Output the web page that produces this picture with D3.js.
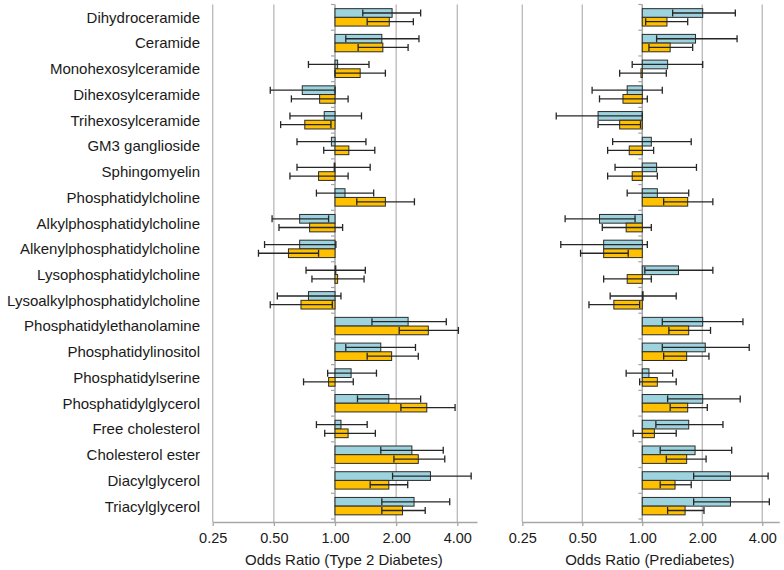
<!DOCTYPE html>
<html>
<head>
<meta charset="utf-8">
<script src="https://cdn.jsdelivr.net/npm/d3@7"></script>
<style>
  html, body { margin: 0; padding: 0; background: #fff; }
  svg { display: block; font-family: "Liberation Sans", Arial, sans-serif; }
</style>
</head>
<body>
<svg id="chart" width="784" height="570"></svg>
<script>
// ---------------- DATA ----------------
const categories = [
  "Dihydroceramide", "Ceramide", "Monohexosylceramide", "Dihexosylceramide",
  "Trihexosylceramide", "GM3 ganglioside", "Sphingomyelin", "Phosphatidylcholine",
  "Alkylphosphatidylcholine", "Alkenylphosphatidylcholine", "Lysophosphatidylcholine",
  "Lysoalkylphosphatidylcholine", "Phosphatidylethanolamine", "Phosphatidylinositol",
  "Phosphatidylserine", "Phosphatidylglycerol", "Free cholesterol", "Cholesterol ester",
  "Diacylglycerol", "Triacylglycerol"
];

const tickValues = [0.25, 0.5, 1, 2, 4];
const tickLabels = ["0.25", "0.50", "1.00", "2.00", "4.00"];

// Type 2 Diabetes – blue series
const t2dBlueOR = [1.91, 1.70, 1.03, 0.69, 0.885, 0.96, 0.99, 1.12, 0.67, 0.67, 1.01, 0.74, 2.29, 1.68, 1.20, 1.84, 1.07, 2.39, 2.95, 2.45];
const t2dBlueLo = [1.37, 1.13, 0.74, 0.48, 0.60, 0.65, 0.65, 0.81, 0.49, 0.45, 0.72, 0.52, 1.52, 1.13, 0.92, 1.29, 0.81, 1.68, 1.92, 1.70];
const t2dBlueHi = [2.64, 2.59, 1.47, 1.00, 1.35, 1.42, 1.49, 1.55, 0.93, 1.01, 1.41, 1.07, 3.53, 2.49, 1.60, 2.64, 1.44, 3.41, 4.68, 3.67];
// Type 2 Diabetes – orange series
const t2dOrangeOR = [1.85, 1.72, 1.33, 0.84, 0.71, 1.17, 0.83, 1.77, 0.75, 0.59, 1.03, 0.68, 2.88, 1.90, 0.93, 2.83, 1.16, 2.57, 1.84, 2.15];
const t2dOrangeLo = [1.44, 1.30, 1.00, 0.61, 0.54, 0.88, 0.60, 1.28, 0.53, 0.42, 0.77, 0.48, 2.07, 1.44, 0.70, 2.11, 0.89, 1.95, 1.49, 1.70];
const t2dOrangeHi = [2.43, 2.29, 1.77, 1.16, 0.955, 1.57, 1.16, 2.46, 1.09, 0.83, 1.39, 0.97, 4.05, 2.57, 1.23, 3.90, 1.58, 3.47, 2.28, 2.78];

// Prediabetes – blue series
const preBlueOR = [2.01, 1.85, 1.34, 0.84, 0.60, 1.11, 1.18, 1.19, 0.61, 0.64, 1.52, 1.01, 2.01, 2.07, 1.08, 2.01, 1.71, 1.84, 2.77, 2.77];
const preBlueLo = [1.42, 1.18, 0.89, 0.56, 0.37, 0.71, 0.73, 0.84, 0.41, 0.39, 1.03, 0.69, 1.26, 1.26, 0.83, 1.34, 1.17, 1.23, 1.81, 1.81];
const preBlueHi = [2.93, 2.99, 2.01, 1.26, 1.00, 1.76, 1.87, 1.71, 0.92, 1.06, 2.26, 1.48, 3.20, 3.44, 1.42, 3.10, 2.54, 2.81, 4.28, 4.34];
// Prediabetes – orange series
const preOrangeOR = [1.33, 1.38, 0.985, 0.80, 0.77, 0.86, 0.89, 1.69, 0.83, 0.64, 0.84, 0.72, 1.71, 1.67, 1.19, 1.69, 1.15, 1.67, 1.46, 1.64];
const preOrangeLo = [1.04, 1.08, 0.77, 0.61, 0.60, 0.67, 0.67, 1.28, 0.63, 0.49, 0.64, 0.54, 1.36, 1.28, 0.97, 1.38, 0.90, 1.32, 1.23, 1.34];
const preOrangeHi = [1.69, 1.79, 1.32, 1.06, 0.98, 1.14, 1.19, 2.26, 1.11, 0.85, 1.11, 0.97, 2.20, 2.16, 1.48, 2.12, 1.48, 2.09, 1.76, 2.04];

const panels = [
  { title: "Odds Ratio (Type 2 Diabetes)", showLabels: true,
    blue: { or: t2dBlueOR, lo: t2dBlueLo, hi: t2dBlueHi },
    orange: { or: t2dOrangeOR, lo: t2dOrangeLo, hi: t2dOrangeHi },
    domain: [0.25, 5.0], range: [212.7, 477] },
  { title: "Odds Ratio (Prediabetes)", showLabels: false,
    blue: { or: preBlueOR, lo: preBlueLo, hi: preBlueHi },
    orange: { or: preOrangeOR, lo: preOrangeLo, hi: preOrangeHi },
    domain: [0.25, 4.87], range: [522.3, 779.3] }
];

// ---------------- STYLE / LAYOUT ----------------
const BLUE = "#9dd3df", ORANGE = "#ffc000";
const BAR_STROKE = "#2b2b2b", ERR = "#262626";
const GRID = "#b8b8b8", AXIS = "#a6a6a6", TEXT = "#1a1a1a";
const yTop = 4.5, yBot = 519, axisY = 522;
const barH = 8.7, capH = 7;

const svg = d3.select("#chart");
const y = d3.scaleBand().domain(categories).range([yTop, yBot]).padding(0);

panels.forEach(p => {
  const x = d3.scaleLog().base(2).domain(p.domain).range(p.range);
  const g = svg.append("g");

  // gridlines (except at 1 which is the axis)
  g.selectAll("line.grid").data(tickValues.filter(v => v !== 1)).enter()
    .append("line")
    .attr("x1", d => x(d)).attr("x2", d => x(d))
    .attr("y1", yTop).attr("y2", axisY)
    .attr("stroke", GRID).attr("stroke-width", 1.3);

  // bottom axis
  const xAxis = d3.axisBottom(x).tickValues(tickValues)
    .tickFormat((d, i) => tickLabels[i]).tickSize(4).tickSizeOuter(0);
  const ax = g.append("g").attr("transform", `translate(0,${axisY})`).call(xAxis);
  ax.select(".domain").attr("stroke", AXIS).attr("stroke-width", 1.3);
  ax.selectAll(".tick line").attr("stroke", AXIS).attr("stroke-width", 1.3);
  ax.selectAll(".tick text").attr("fill", TEXT)
    .attr("font-family", "Liberation Sans, Arial, sans-serif")
    .attr("font-size", 14.5).attr("dy", 0).attr("y", 21);

  // title
  g.append("text")
    .attr("x", (x(0.25) + x(p.domain[1])) / 2 - 1)
    .attr("y", 565)
    .attr("text-anchor", "middle")
    .attr("font-size", 15).attr("fill", TEXT)
    .text(p.title);

  // vertical axis at 1.00 with category ticks on the left
  const yAxis = d3.axisLeft(y).tickSize(4).tickFormat("").tickSizeOuter(0);
  const ya = g.append("g").attr("transform", `translate(${x(1)},0)`).call(yAxis);
  ya.select(".domain").remove();
  // ticks at band boundaries instead of centres
  ya.selectAll(".tick").remove();
  const bounds = categories.map(c => y(c)).concat([yBot]);
  ya.selectAll("line.b").data(bounds).enter().append("line")
    .attr("x1", -4).attr("x2", 0)
    .attr("y1", d => d).attr("y2", d => d)
    .attr("stroke", AXIS).attr("stroke-width", 1.2);
  g.append("line")
    .attr("x1", x(1)).attr("x2", x(1))
    .attr("y1", yTop).attr("y2", axisY)
    .attr("stroke", AXIS).attr("stroke-width", 1.5);

  // bars + error bars
  const series = [
    { s: p.blue, color: BLUE, off: -barH },
    { s: p.orange, color: ORANGE, off: 0 }
  ];
  series.forEach(se => {
    const rows = categories.map((c, i) => ({
      c, or: se.s.or[i], lo: se.s.lo[i], hi: se.s.hi[i],
      yc: y(c) + y.bandwidth() / 2
    }));
    g.selectAll(null).data(rows).enter().append("rect")
      .attr("x", d => Math.min(x(1), x(d.or)))
      .attr("width", d => Math.max(0.8, Math.abs(x(d.or) - x(1))))
      .attr("y", d => d.yc + se.off)
      .attr("height", barH)
      .attr("fill", se.color)
      .attr("stroke", BAR_STROKE).attr("stroke-width", 1);
    const ey = d => d.yc + se.off + barH / 2;
    g.selectAll(null).data(rows).enter().append("line")
      .attr("x1", d => x(d.lo)).attr("x2", d => x(d.hi))
      .attr("y1", ey).attr("y2", ey)
      .attr("stroke", ERR).attr("stroke-width", 1.3);
    ["lo", "hi"].forEach(k => {
      g.selectAll(null).data(rows).enter().append("line")
        .attr("x1", d => x(d[k])).attr("x2", d => x(d[k]))
        .attr("y1", d => ey(d) - capH / 2).attr("y2", d => ey(d) + capH / 2)
        .attr("stroke", ERR).attr("stroke-width", 1.3);
    });
  });

  // category labels
  if (p.showLabels) {
    g.selectAll(null).data(categories).enter().append("text")
      .attr("x", 200)
      .attr("y", d => y(d) + y.bandwidth() / 2)
      .attr("dy", "0.36em")
      .attr("text-anchor", "end")
      .attr("font-size", 15).attr("fill", TEXT)
      .text(d => d);
  }
});
</script>
</body>
</html>
